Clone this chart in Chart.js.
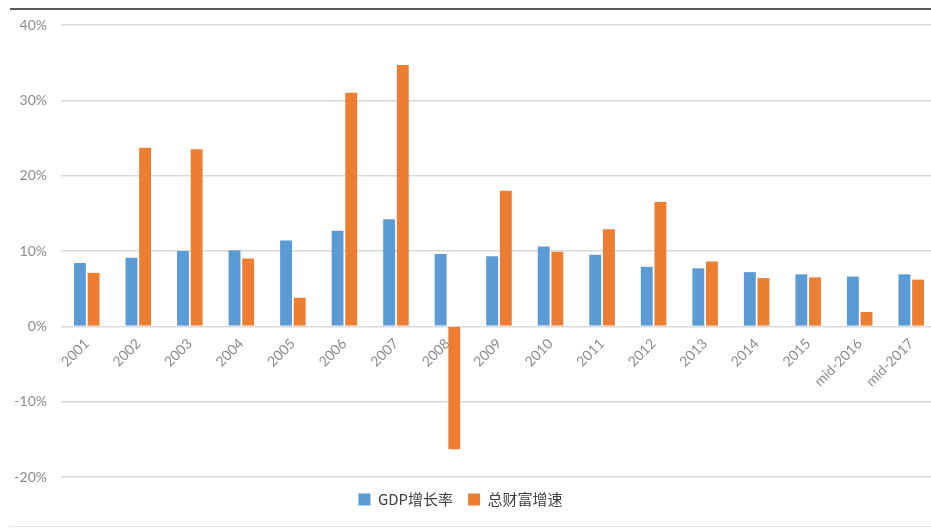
<!DOCTYPE html>
<html>
<head>
<meta charset="utf-8">
<script src="https://cdn.jsdelivr.net/npm/chart.js@4/dist/chart.umd.min.js"></script>
<style>
  html, body { margin: 0; padding: 0; background: #fff; overflow: hidden; }
  #frame { position: relative; width: 931px; height: 528px; overflow: hidden; }
  #wrap { position: absolute; left: 0; top: 0; width: 937px; height: 528px; }
  #topRule { position: absolute; left: 10px; right: 0; top: 8px; height: 2px; background: #5a5a5a; }
  #bottomRule { position: absolute; left: 10px; right: 0; top: 526px; height: 1px; background: #e2e2e2; }
</style>
</head>
<body>
<div id="frame">
  <div id="topRule"></div>
  <div id="wrap"><canvas id="chart"></canvas></div>
  <div id="bottomRule"></div>
</div>
<script>
// Years on the x axis
const years = ["2001", "2002", "2003", "2004", "2005", "2006", "2007", "2008", "2009",
  "2010", "2011", "2012", "2013", "2014", "2015", "mid-2016", "mid-2017"];

// GDP growth, %
const gdpGrowth = [8.4, 9.1, 10.0, 10.1, 11.4, 12.7, 14.2, 9.6, 9.3, 10.6, 9.5, 7.9, 7.7, 7.2, 6.9, 6.6, 6.9];

// Total wealth growth, %
const wealthGrowth = [7.1, 23.7, 23.5, 9.0, 3.8, 31.0, 34.7, -16.3, 18.0, 9.9, 12.9, 16.5, 8.6, 6.4, 6.5, 1.9, 6.2];

const seriesNames = ["GDP增长率", "总财富增速"];
const yTicks = [-20, -10, 0, 10, 20, 30, 40];

const blue = "#5b9bd5";
const orange = "#ed7d31";
const axisGrey = "#8c8c8c";
const gridGrey = "#d9d9d9";

const barShape = {
  categoryPercentage: 0.53,
  barPercentage: 0.87,
  borderWidth: 0
};

// nudge the legend a little left of the canvas centre
const legendShift = {
  id: "legendShift",
  afterLayout(chart) {
    const lg = chart.legend;
    if (!lg) return;
    lg.left -= 8;
    lg.right -= 8;
  }
};

new Chart(document.getElementById("chart").getContext("2d"), {
  type: "bar",
  plugins: [legendShift],
  data: {
    labels: years,
    datasets: [
      Object.assign({ label: seriesNames[0], data: gdpGrowth, backgroundColor: blue }, barShape),
      Object.assign({ label: seriesNames[1], data: wealthGrowth, backgroundColor: orange }, barShape)
    ]
  },
  options: {
    responsive: true,
    maintainAspectRatio: false,
    animation: false,
    layout: { padding: { top: 25, right: 0, bottom: 11, left: 0 } },
    plugins: {
      tooltip: { enabled: false },
      legend: {
        position: "bottom",
        labels: {
          boxWidth: 12,
          boxHeight: 12,
          padding: 15,
          color: "#404040",
          font: { family: "'Noto Sans CJK SC', 'Noto Sans', sans-serif", size: 15 }
        }
      }
    },
    scales: {
      x: {
        // labels hang under the zero line
        position: { y: 0 },
        grid: { display: false, drawTicks: false },
        border: { display: false },
        ticks: {
          color: axisGrey,
          font: { family: "Lato, sans-serif", size: 14 },
          maxRotation: 45,
          minRotation: 45,
          padding: 9,
          autoSkip: false
        }
      },
      y: {
        min: yTicks[0],
        max: yTicks[yTicks.length - 1],
        afterBuildTicks: axis => { axis.ticks = yTicks.map(v => ({ value: v })); },
        afterFit: axis => { axis.width = 61; },
        grid: { color: gridGrey, lineWidth: 1.5, drawTicks: false },
        border: { display: false },
        ticks: {
          color: axisGrey,
          padding: 14,
          font: { family: "Lato, sans-serif", size: 14 },
          callback: v => v + "%"
        }
      }
    }
  }
});
</script>
</body>
</html>
